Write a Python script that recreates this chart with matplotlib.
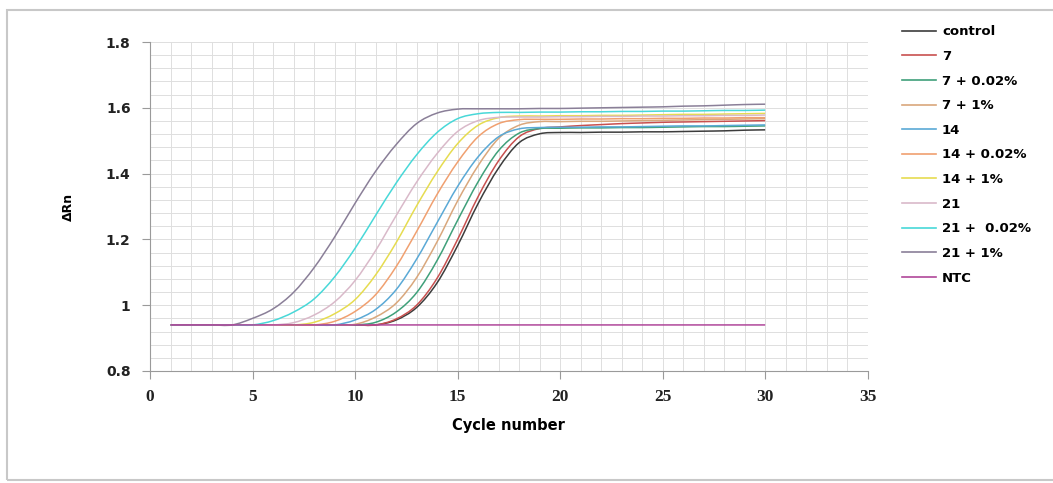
import matplotlib
matplotlib.use("Agg")
import matplotlib.pyplot as plt
from matplotlib.patches import Rectangle, PathPatch
from matplotlib.path import Path
from matplotlib.lines import Line2D
from matplotlib.ticker import MultipleLocator, FixedLocator

# ---------------------------------------------------------------------------
# Data (delta Rn per cycle)
# ---------------------------------------------------------------------------

cycles = list(range(1, 31))

control = [0.94] * 11 + [0.955, 0.993, 1.068, 1.181, 1.309, 1.417, 1.494, 1.521, 1.525,
                         1.525, 1.526, 1.526, 1.527, 1.527, 1.528, 1.529, 1.530, 1.532, 1.533]
d7 = [0.94] * 11 + [0.958, 1.000, 1.082, 1.200, 1.330, 1.439, 1.512, 1.537, 1.542,
                    1.546, 1.549, 1.552, 1.554, 1.556, 1.557, 1.558, 1.559, 1.560, 1.561]
d7_002 = [0.94] * 10 + [0.948, 0.979, 1.038, 1.136, 1.258, 1.375, 1.470, 1.523, 1.537, 1.538,
                        1.539, 1.539, 1.540, 1.540, 1.541, 1.542, 1.543, 1.543, 1.544, 1.545]
d7_1 = [0.94] * 9 + [0.942, 0.964, 1.006, 1.084, 1.193, 1.317, 1.424, 1.507, 1.547, 1.558, 1.558,
                     1.559, 1.559, 1.560, 1.561, 1.562, 1.563, 1.564, 1.565, 1.566, 1.567]
d14 = [0.94] * 9 + [0.955, 0.987, 1.047, 1.140, 1.251, 1.361, 1.451, 1.512, 1.536, 1.540, 1.541,
                    1.541, 1.542, 1.542, 1.543, 1.544, 1.545, 1.545, 1.546, 1.547, 1.548]
d14_002 = [0.94] * 8 + [0.951, 0.981, 1.032, 1.117, 1.224, 1.337, 1.435, 1.512, 1.552, 1.564,
                        1.565, 1.565,
                        1.566, 1.566, 1.567, 1.567, 1.568, 1.568, 1.569, 1.569, 1.570, 1.570]
d14_1 = [0.94] * 7 + [0.948, 0.974, 1.017, 1.092, 1.190, 1.302, 1.405, 1.491, 1.547, 1.570,
                      1.575, 1.575, 1.576,
                      1.576, 1.577, 1.577, 1.578, 1.579, 1.580, 1.580, 1.581, 1.582, 1.583]
d21 = [0.94] * 6 + [0.947, 0.970, 1.010, 1.075, 1.166, 1.272, 1.374, 1.461, 1.528, 1.561,
                    1.571, 1.572, 1.572, 1.573,
                    1.573, 1.574, 1.574, 1.575, 1.575, 1.576, 1.576, 1.577, 1.577, 1.578]
d21_002 = [0.94] * 5 + [0.953, 0.979, 1.019, 1.086, 1.173, 1.273, 1.371, 1.457, 1.525, 1.567,
                        1.582, 1.586, 1.586, 1.587, 1.587,
                        1.588, 1.588, 1.589, 1.589, 1.590, 1.590, 1.591, 1.592, 1.592, 1.593]
d21_1 = [0.94] * 4 + [0.960, 0.989, 1.039, 1.114, 1.207, 1.310, 1.407, 1.488, 1.552, 1.584,
                      1.596, 1.597, 1.597, 1.597, 1.598, 1.598,
                      1.599, 1.600, 1.601, 1.602, 1.603, 1.605, 1.606, 1.608, 1.610, 1.611]
ntc = [0.94] * 30

labels = ["control", "7", "7 + 0.02%", "7 + 1%", "14", "14 + 0.02%",
          "14 + 1%", "21", "21 +  0.02%", "21 + 1%", "NTC"]
series = [control, d7, d7_002, d7_1, d14, d14_002, d14_1, d21, d21_002, d21_1, ntc]
colors = ["#3c3c3c", "#c8504f", "#3fa07a", "#d9a77c", "#5aa9d6", "#f0a070",
          "#e6dc50", "#d9b9c9", "#48d8d8", "#8a7f98", "#b0479a"]


def smooth_path(xs, ys):
    """Excel-style smoothed line: Catmull-Rom segments as cubic Beziers."""
    pts = list(zip(xs, ys))
    verts = [pts[0]]
    codes = [Path.MOVETO]
    n = len(pts)
    for i in range(n - 1):
        p0 = pts[max(i - 1, 0)]
        p1 = pts[i]
        p2 = pts[i + 1]
        p3 = pts[min(i + 2, n - 1)]
        c1 = (p1[0] + (p2[0] - p0[0]) / 6, p1[1] + (p2[1] - p0[1]) / 6)
        c2 = (p2[0] - (p3[0] - p1[0]) / 6, p2[1] - (p3[1] - p1[1]) / 6)
        verts += [c1, c2, p2]
        codes += [Path.CURVE4] * 3
    return Path(verts, codes)


# ---------------------------------------------------------------------------
# Figure
# ---------------------------------------------------------------------------

fig = plt.figure(figsize=(10.53, 4.83), dpi=100, facecolor="white")
ax = fig.add_axes([0.1425, 0.2319, 0.6815, 0.6811])

handles = []
for vals, lab, col in zip(series, labels, colors):
    ax.add_patch(PathPatch(smooth_path(cycles, vals), fill=False,
                           edgecolor=col, lw=1.1))
    handles.append(Line2D([], [], color=col, lw=1.2, label=lab))

ax.set_xlim(0, 35)
ax.set_ylim(0.8, 1.8)
ax.xaxis.set_major_locator(MultipleLocator(5))
ax.xaxis.set_minor_locator(MultipleLocator(1))
ax.yaxis.set_major_locator(FixedLocator([0.8, 1.0, 1.2, 1.4, 1.6, 1.8]))
ax.yaxis.set_minor_locator(MultipleLocator(0.04))
ax.set_yticklabels(["0.8", "1", "1.2", "1.4", "1.6", "1.8"])

ax.grid(which="both", color="#dedede", lw=0.7)
ax.set_axisbelow(True)
for side in ("top", "right"):
    ax.spines[side].set_visible(False)
for side in ("left", "bottom"):
    ax.spines[side].set_color("#9a9a9a")
ax.tick_params(which="major", direction="out", length=6, color="#9a9a9a",
               labelsize=10, labelcolor="#222222")
ax.tick_params(which="minor", length=0)
for t in ax.get_yticklabels():
    t.set_fontweight("bold")
for t in ax.get_xticklabels():
    t.set_fontweight("bold")
    t.set_family("Liberation Serif")
    t.set_fontsize(12.5)
ax.tick_params(axis="x", pad=7)
ax.tick_params(axis="y", pad=8)

ax.set_xlabel("Cycle number", fontsize=10.5, fontweight="bold", labelpad=9)
ax.set_ylabel("ΔRn", fontsize=9, fontweight="bold", labelpad=22)

fig.legend(handles=handles, loc="upper left", bbox_to_anchor=(0.845, 0.972),
           frameon=False, handlelength=2.6, handletextpad=0.45, labelspacing=0.88,
           prop={"weight": "bold", "size": 9.5})

# outer chart-area border
fig.patches.append(Rectangle((7 / 1053, 3 / 483), 1.2, 470 / 483,
                             transform=fig.transFigure, fill=False,
                             edgecolor="#c8c8c8", lw=1.5))

fig.savefig("out.png", dpi=100, facecolor="white")
